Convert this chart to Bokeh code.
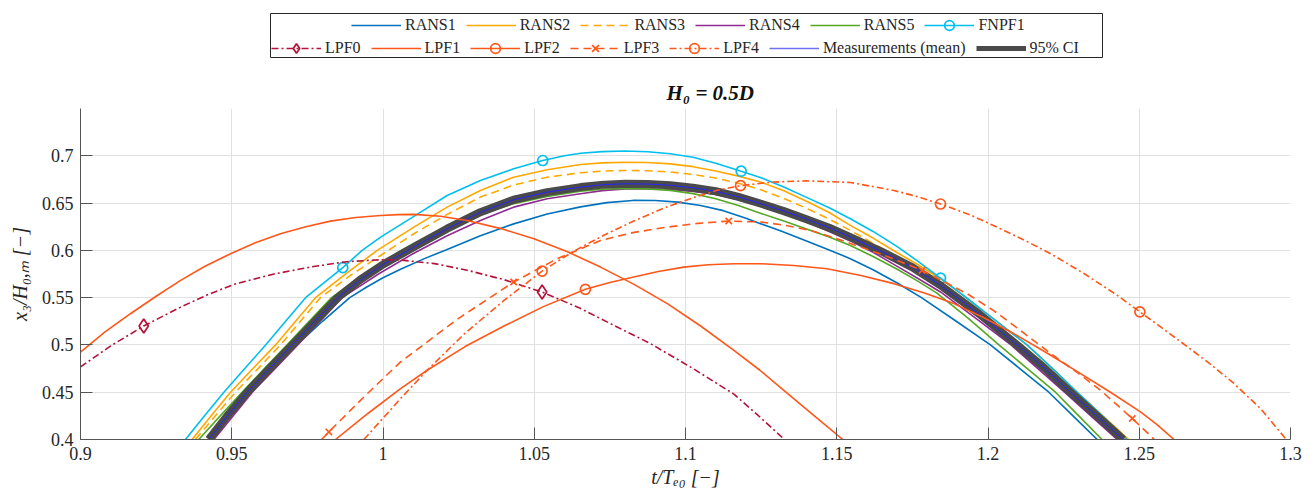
from bokeh.plotting import figure
from bokeh.models import (Range1d, Legend, LegendItem, FixedTicker, NumeralTickFormatter,
                          BoxAnnotation)
from bokeh.layouts import column
from bokeh.embed import file_html
from bokeh.resources import INLINE

# ---------------- data ----------------
x_ticks = [0.9, 0.95, 1.0, 1.05, 1.1, 1.15, 1.2, 1.25, 1.3]
y_ticks = [0.4, 0.45, 0.5, 0.55, 0.6, 0.65, 0.7]

meas_t = [0.9424, 0.9485, 0.9551, 0.9625, 0.9700, 0.9775, 0.9850, 0.9925, 1.0000, 1.0102, 1.0212,
          1.0322, 1.0432, 1.0543, 1.0653, 1.0730, 1.0800, 1.0875, 1.0950, 1.1025, 1.1100, 1.1175,
          1.1250, 1.1325, 1.1400, 1.1475, 1.1545, 1.1650, 1.1750, 1.1843, 1.1970, 1.2096, 1.2185,
          1.2273, 1.2360, 1.2447]
meas_y = [0.4000, 0.4250, 0.4500, 0.4750, 0.5000, 0.5250, 0.5500, 0.5690, 0.5850, 0.6035, 0.6229,
          0.6404, 0.6535, 0.6616, 0.6669, 0.6695, 0.6704, 0.6701, 0.6688, 0.6662, 0.6625, 0.6565,
          0.6493, 0.6415, 0.6330, 0.6240, 0.6140, 0.5985, 0.5820, 0.5630, 0.5330, 0.5000, 0.4760,
          0.4500, 0.4250, 0.4000]

fnpf1_t = [0.9347, 0.9410, 0.9474, 0.9543, 0.9612, 0.9678, 0.9744, 0.9867, 0.9931, 0.9992, 1.0102,
           1.0212, 1.0322, 1.0432, 1.0528, 1.0600, 1.0653, 1.0725, 1.0800, 1.0875, 1.0950, 1.1025,
           1.1100, 1.1184, 1.1250, 1.1325, 1.1400, 1.1475, 1.1545, 1.1620, 1.1700, 1.1770, 1.1843,
           1.1920, 1.2000, 1.2065, 1.2129, 1.2210, 1.2295, 1.2378, 1.2460]
fnpf1_y = [0.4000, 0.4250, 0.4500, 0.4750, 0.5000, 0.5250, 0.5500, 0.5817, 0.6000, 0.6140, 0.6359,
           0.6580, 0.6739, 0.6862, 0.6950, 0.7000, 0.7027, 0.7044, 0.7050, 0.7043, 0.7022, 0.6985,
           0.6920, 0.6837, 0.6768, 0.6670, 0.6560, 0.6450, 0.6334, 0.6200, 0.6040, 0.5880, 0.5707,
           0.5520, 0.5320, 0.5160, 0.5000, 0.4760, 0.4500, 0.4250, 0.4000]
fnpf1_mt = [0.9867, 1.0528, 1.1184, 1.1843]
fnpf1_my = [0.5817, 0.6950, 0.6837, 0.5707]

rans1_t = [0.9430, 0.9495, 0.9562, 0.9638, 0.9715, 0.9800, 0.9890, 0.9945, 1.0000, 1.0058, 1.0135,
           1.0212, 1.0322, 1.0432, 1.0543, 1.0653, 1.0740, 1.0826, 1.0900, 1.0975, 1.1050, 1.1125,
           1.1200, 1.1248, 1.1320, 1.1400, 1.1475, 1.1545, 1.1620, 1.1700, 1.1780, 1.1895, 1.2008,
           1.2105, 1.2201, 1.2281, 1.2361]
rans1_y = [0.4000, 0.4250, 0.4500, 0.4750, 0.5000, 0.5250, 0.5500, 0.5610, 0.5710, 0.5800, 0.5910,
           0.6010, 0.6155, 0.6280, 0.6385, 0.6460, 0.6505, 0.6528, 0.6527, 0.6510, 0.6475, 0.6420,
           0.6340, 0.6282, 0.6200, 0.6100, 0.6005, 0.5912, 0.5795, 0.5655, 0.5500, 0.5250, 0.5000,
           0.4750, 0.4500, 0.4250, 0.4000]

rans2_t = [0.9369, 0.9432, 0.9496, 0.9570, 0.9645, 0.9711, 0.9777, 0.9880, 0.9981, 1.0102, 1.0212,
           1.0322, 1.0432, 1.0543, 1.0653, 1.0725, 1.0800, 1.0875, 1.0950, 1.1025, 1.1100, 1.1175,
           1.1250, 1.1325, 1.1400, 1.1475, 1.1545, 1.1620, 1.1700, 1.1770, 1.1843, 1.1920, 1.2000,
           1.2065, 1.2129, 1.2210, 1.2295, 1.2380, 1.2465]
rans2_y = [0.4000, 0.4250, 0.4500, 0.4750, 0.5000, 0.5250, 0.5500, 0.5760, 0.6000, 0.6246, 0.6457,
           0.6633, 0.6774, 0.6852, 0.6908, 0.6925, 0.6932, 0.6929, 0.6914, 0.6885, 0.6840, 0.6785,
           0.6721, 0.6630, 0.6520, 0.6400, 0.6264, 0.6130, 0.5975, 0.5845, 0.5700, 0.5520, 0.5320,
           0.5160, 0.5000, 0.4760, 0.4500, 0.4250, 0.4000]

rans3_t = [0.9380, 0.9446, 0.9512, 0.9587, 0.9661, 0.9727, 0.9793, 0.9890, 0.9992, 1.0102, 1.0212,
           1.0322, 1.0432, 1.0543, 1.0653, 1.0725, 1.0800, 1.0875, 1.0950, 1.1025, 1.1100, 1.1175,
           1.1250, 1.1325, 1.1400, 1.1475, 1.1545, 1.1620, 1.1700, 1.1770, 1.1843, 1.1920, 1.2000,
           1.2105, 1.2190, 1.2280, 1.2367, 1.2455]
rans3_y = [0.4000, 0.4250, 0.4500, 0.4750, 0.5000, 0.5250, 0.5500, 0.5730, 0.5946, 0.6176, 0.6380,
           0.6563, 0.6690, 0.6774, 0.6820, 0.6838, 0.6845, 0.6842, 0.6828, 0.6803, 0.6765, 0.6710,
           0.6640, 0.6550, 0.6445, 0.6330, 0.6211, 0.6075, 0.5925, 0.5785, 0.5650, 0.5470, 0.5280,
           0.5000, 0.4760, 0.4500, 0.4250, 0.4000]

rans4_t = [0.9441, 0.9505, 0.9568, 0.9643, 0.9718, 0.9792, 0.9865, 0.9985, 1.0102, 1.0212, 1.0322,
           1.0432, 1.0543, 1.0653, 1.0725, 1.0800, 1.0875, 1.0950, 1.1025, 1.1100, 1.1175, 1.1250,
           1.1325, 1.1400, 1.1475, 1.1545, 1.1620, 1.1700, 1.1770, 1.1843, 1.1960, 1.2076, 1.2165,
           1.2253, 1.2340, 1.2427]
rans4_y = [0.4000, 0.4250, 0.4500, 0.4750, 0.5000, 0.5250, 0.5500, 0.5750, 0.5970, 0.6155, 0.6316,
           0.6457, 0.6546, 0.6598, 0.6632, 0.6650, 0.6652, 0.6643, 0.6622, 0.6590, 0.6535, 0.6470,
           0.6390, 0.6300, 0.6200, 0.6100, 0.5980, 0.5830, 0.5700, 0.5560, 0.5280, 0.5000, 0.4750,
           0.4500, 0.4250, 0.4000]

rans5_t = [0.9391, 0.9462, 0.9534, 0.9608, 0.9683, 0.9756, 0.9830, 0.9945, 1.0060, 1.0155, 1.0250,
           1.0340, 1.0432, 1.0543, 1.0653, 1.0725, 1.0800, 1.0875, 1.0950, 1.1025, 1.1100, 1.1175,
           1.1250, 1.1325, 1.1400, 1.1475, 1.1545, 1.1620, 1.1700, 1.1765, 1.1830, 1.1935, 1.2036,
           1.2130, 1.2223, 1.2300, 1.2377]
rans5_y = [0.4000, 0.4250, 0.4500, 0.4750, 0.5000, 0.5250, 0.5500, 0.5770, 0.6000, 0.6155, 0.6290,
           0.6400, 0.6493, 0.6570, 0.6626, 0.6646, 0.6655, 0.6650, 0.6634, 0.6600, 0.6545, 0.6475,
           0.6390, 0.6310, 0.6225, 0.6140, 0.6052, 0.5935, 0.5800, 0.5680, 0.5550, 0.5280, 0.5000,
           0.4750, 0.4500, 0.4250, 0.4000]

lpf0_t = [0.9000, 0.9100, 0.9209, 0.9331, 0.9420, 0.9507, 0.9640, 0.9771, 0.9880, 0.9992, 1.0058,
          1.0170, 1.0278, 1.0400, 1.0526, 1.0650, 1.0774, 1.0884, 1.1020, 1.1160, 1.1240, 1.1327]
lpf0_y = [0.4767, 0.4990, 0.5200, 0.5400, 0.5530, 0.5640, 0.5750, 0.5830, 0.5880, 0.5901, 0.5898,
          0.5860, 0.5790, 0.5690, 0.5559, 0.5390, 0.5190, 0.5014, 0.4760, 0.4480, 0.4255, 0.4000]
lpf0_mt = [0.9209, 1.0526]
lpf0_my = [0.5200, 0.5559]

lpf1_t = [0.9000, 0.9080, 0.9165, 0.9250, 0.9331, 0.9410, 0.9496, 0.9578, 0.9661, 0.9745, 0.9826,
          0.9910, 0.9992, 1.0050, 1.0102, 1.0190, 1.0278, 1.0390, 1.0499, 1.0610, 1.0719, 1.0830,
          1.0940, 1.1050, 1.1160, 1.1245, 1.1325, 1.1420, 1.1520]
lpf1_y = [0.4925, 0.5135, 0.5330, 0.5515, 0.5683, 0.5830, 0.5965, 0.6080, 0.6176, 0.6250, 0.6309,
          0.6348, 0.6369, 0.6378, 0.6380, 0.6360, 0.6316, 0.6230, 0.6123, 0.5985, 0.5823, 0.5640,
          0.5437, 0.5200, 0.4943, 0.4735, 0.4520, 0.4265, 0.4000]

lpf2_t = [0.9843, 0.9950, 1.0058, 1.0146, 1.0270, 1.0400, 1.0530, 1.0669, 1.0750, 1.0829, 1.0910,
          1.0994, 1.1075, 1.1160, 1.1248, 1.1358, 1.1468, 1.1580, 1.1689, 1.1790, 1.1887, 1.1985,
          1.2085, 1.2195, 1.2306, 1.2405, 1.2504, 1.2560, 1.2615]
lpf2_y = [0.4000, 0.4275, 0.4538, 0.4732, 0.4980, 0.5200, 0.5405, 0.5588, 0.5660, 0.5718, 0.5777,
          0.5823, 0.5848, 0.5859, 0.5859, 0.5840, 0.5806, 0.5735, 0.5648, 0.5550, 0.5437, 0.5290,
          0.5120, 0.4915, 0.4697, 0.4500, 0.4292, 0.4155, 0.4000]
lpf2_mt = [1.0669]
lpf2_my = [0.5588]

lpf3_t = [0.9797, 0.9821, 0.9940, 1.0058, 1.0245, 1.0432, 1.0576, 1.0719, 1.0830, 1.0940, 1.1040,
          1.1143, 1.1250, 1.1330, 1.1413, 1.1495, 1.1579, 1.1680, 1.1782, 1.1931, 1.2020, 1.2096,
          1.2207, 1.2290, 1.2372, 1.2477, 1.2550]
lpf3_y = [0.4000, 0.4080, 0.4460, 0.4820, 0.5270, 0.5665, 0.5912, 0.6105, 0.6190, 0.6246, 0.6285,
          0.6310, 0.6300, 0.6265, 0.6211, 0.6130, 0.6035, 0.5920, 0.5788, 0.5542, 0.5360, 0.5180,
          0.4910, 0.4720, 0.4521, 0.4222, 0.4000]
lpf3_mt = [0.9821, 1.0432, 1.1143, 1.1782, 1.2477]
lpf3_my = [0.4080, 0.5665, 0.6310, 0.5788, 0.4222]

lpf4_t = [0.9937, 1.0058, 1.0146, 1.0270, 1.0400, 1.0526, 1.0630, 1.0730, 1.0829, 1.0930, 1.1028,
          1.1105, 1.1182, 1.1290, 1.1400, 1.1545, 1.1689, 1.1765, 1.1843, 1.1945, 1.2041, 1.2125,
          1.2207, 1.2320, 1.2427, 1.2502, 1.2575, 1.2647, 1.2730, 1.2812, 1.2900, 1.2986]
lpf4_y = [0.4000, 0.4433, 0.4732, 0.5120, 0.5470, 0.5781, 0.5990, 0.6160, 0.6310, 0.6450, 0.6560,
          0.6635, 0.6685, 0.6722, 0.6735, 0.6718, 0.6633, 0.6570, 0.6490, 0.6370, 0.6229, 0.6100,
          0.5965, 0.5750, 0.5525, 0.5350, 0.5180, 0.5010, 0.4810, 0.4595, 0.4330, 0.4000]
lpf4_mt = [1.0526, 1.1182, 1.1843, 1.2502]
lpf4_my = [0.5781, 0.6685, 0.6490, 0.5350]

# ---------------- styles ----------------
FONT = "Liberation Serif"
TXT = "#262626"
C_RANS1 = "#0072BD"
C_RANS2 = "#FFA800"
C_RANS4 = "#8E2C93"
C_RANS5 = "#55A823"
C_FNPF = "#00BFEE"
C_LPF0 = "#B5123A"
C_LPF = "#FF5719"
C_MEAS = "#2626FF"
C_CI = "#4A4A4A"
LW = 1.6
DASH = "8 5"
DASHDOT = "7 3 2 3"

SERIES = {
    "RANS1": (rans1_t, rans1_y, dict(line_color=C_RANS1), None),
    "RANS2": (rans2_t, rans2_y, dict(line_color=C_RANS2), None),
    "RANS3": (rans3_t, rans3_y, dict(line_color=C_RANS2, line_dash=DASH), None),
    "RANS4": (rans4_t, rans4_y, dict(line_color=C_RANS4), None),
    "RANS5": (rans5_t, rans5_y, dict(line_color=C_RANS5), None),
    "FNPF1": (fnpf1_t, fnpf1_y, dict(line_color=C_FNPF),
              (fnpf1_mt, fnpf1_my, dict(marker="circle", size=10, line_color=C_FNPF))),
    "LPF0": (lpf0_t, lpf0_y, dict(line_color=C_LPF0, line_dash=DASHDOT),
             (lpf0_mt, lpf0_my, dict(marker="diamond", size=14, line_color=C_LPF0))),
    "LPF1": (lpf1_t, lpf1_y, dict(line_color=C_LPF), None),
    "LPF2": (lpf2_t, lpf2_y, dict(line_color=C_LPF),
             (lpf2_mt, lpf2_my, dict(marker="circle", size=10, line_color=C_LPF))),
    "LPF3": (lpf3_t, lpf3_y, dict(line_color=C_LPF, line_dash=DASH),
             (lpf3_mt, lpf3_my, dict(marker="x", size=9, line_color=C_LPF))),
    "LPF4": (lpf4_t, lpf4_y, dict(line_color=C_LPF, line_dash=DASHDOT),
             (lpf4_mt, lpf4_my, dict(marker="circle", size=10, line_color=C_LPF))),
}


def draw_series(fig, name, visible=True):
    t, y, st, mk = SERIES[name]
    rs = [fig.line(t, y, line_width=LW, line_join="round", visible=visible, **st)]
    if mk is not None:
        mt, my, mst = mk
        rs.append(fig.scatter(mt, my, fill_color=None, line_width=1.7, visible=visible, **mst))
    return rs


# ---------------- main figure ----------------
# page frame: left 80, right 1290, top 108, bottom 439
p = figure(width=1310, height=434, x_range=Range1d(0.9, 1.3), y_range=Range1d(0.4, 0.75),
           output_backend="svg", toolbar_location=None,
           min_border_left=80, min_border_right=20, min_border_top=48, min_border_bottom=55)
p.outline_line_color = None

p.title.text = "H\u2080 = 0.5D"
p.title.align = "left"
p.title.offset = 586
p.title.text_font = FONT
p.title.text_font_size = "21px"
p.title.text_font_style = "bold italic"
p.title.text_color = "#111111"
p.title.standoff = 8

for ax in (p.xaxis[0], p.yaxis[0]):
    ax.formatter = NumeralTickFormatter(format="0.[00]")
    ax.major_tick_in = 12
    ax.major_tick_out = 0
    ax.minor_tick_line_color = None
    ax.axis_line_color = "#555555"
    ax.major_tick_line_color = "#555555"
    ax.major_label_text_font = FONT
    ax.major_label_text_font_size = "18px"
    ax.major_label_text_color = TXT
    ax.axis_label_text_font = FONT
    ax.axis_label_text_font_size = "20px"
    ax.axis_label_text_font_style = "italic"
    ax.axis_label_text_color = TXT
    ax.major_label_standoff = 7
p.xaxis.ticker = FixedTicker(ticks=x_ticks)
p.yaxis.ticker = FixedTicker(ticks=y_ticks)
p.xaxis.axis_label = "t/T\u2091\u2080 [\u2212]"
p.yaxis.axis_label = "x\u2083/H\u2080,\u2098 [\u2212]"
p.xaxis.axis_label_standoff = 3
p.yaxis.axis_label_standoff = 8
for g in (p.xgrid[0], p.ygrid[0]):
    g.grid_line_color = "#e1e1e1"
    g.grid_line_width = 1

for name in ["RANS1", "RANS2", "RANS3", "RANS4", "RANS5", "FNPF1"]:
    draw_series(p, name)
p.line(meas_t, meas_y, line_color=C_CI, line_width=8, line_join="round")
p.line(meas_t, meas_y, line_color=C_MEAS, line_width=1)
for name in ["LPF0", "LPF1", "LPF2", "LPF3", "LPF4"]:
    draw_series(p, name)

# ---------------- legend strip (same borders as the main figure) ----------------
lf = figure(width=1310, height=60, x_range=Range1d(0, 1210), y_range=Range1d(0, 60),
            x_axis_type=None, y_axis_type=None, output_backend="svg", toolbar_location=None,
            min_border_left=80, min_border_right=20, min_border_top=0, min_border_bottom=0)
lf.outline_line_color = None

# legend box: page x 270..1102, y 13..57
lf.add_layout(BoxAnnotation(left=190, right=1022, bottom=3, top=47,
                            fill_color="white", fill_alpha=0.0,
                            line_color="#262626", line_width=1, line_alpha=1.0))

leg_r = {name: draw_series(lf, name, visible=False) for name in SERIES}
leg_r["Measurements (mean)"] = [lf.line(meas_t, meas_y, line_color="#6F6FF5", line_width=1.6,
                                        visible=False)]
leg_r["95% CI"] = [lf.line(meas_t, meas_y, line_color=C_CI, line_width=5, visible=False)]

row1 = ["RANS1", "RANS2", "RANS3", "RANS4", "RANS5", "FNPF1"]
row2 = ["LPF0", "LPF1", "LPF2", "LPF3", "LPF4", "Measurements (mean)", "95% CI"]


def make_legend(names, loc):
    return Legend(items=[LegendItem(label=n, renderers=leg_r[n]) for n in names],
                  orientation="horizontal", location=loc, margin=0, padding=0,
                  spacing=10, glyph_width=50, glyph_height=24, label_height=24,
                  label_standoff=4, label_text_font=FONT, label_text_font_size="16px",
                  label_text_color=TXT, border_line_color=None, background_fill_alpha=0,
                  inactive_fill_alpha=0)


lf.add_layout(make_legend(row1, (271, 23)))
lf.add_layout(make_legend(row2, (191, 0)))

layout = column(lf, p)
open("out.html", "w").write(file_html(layout, INLINE))
